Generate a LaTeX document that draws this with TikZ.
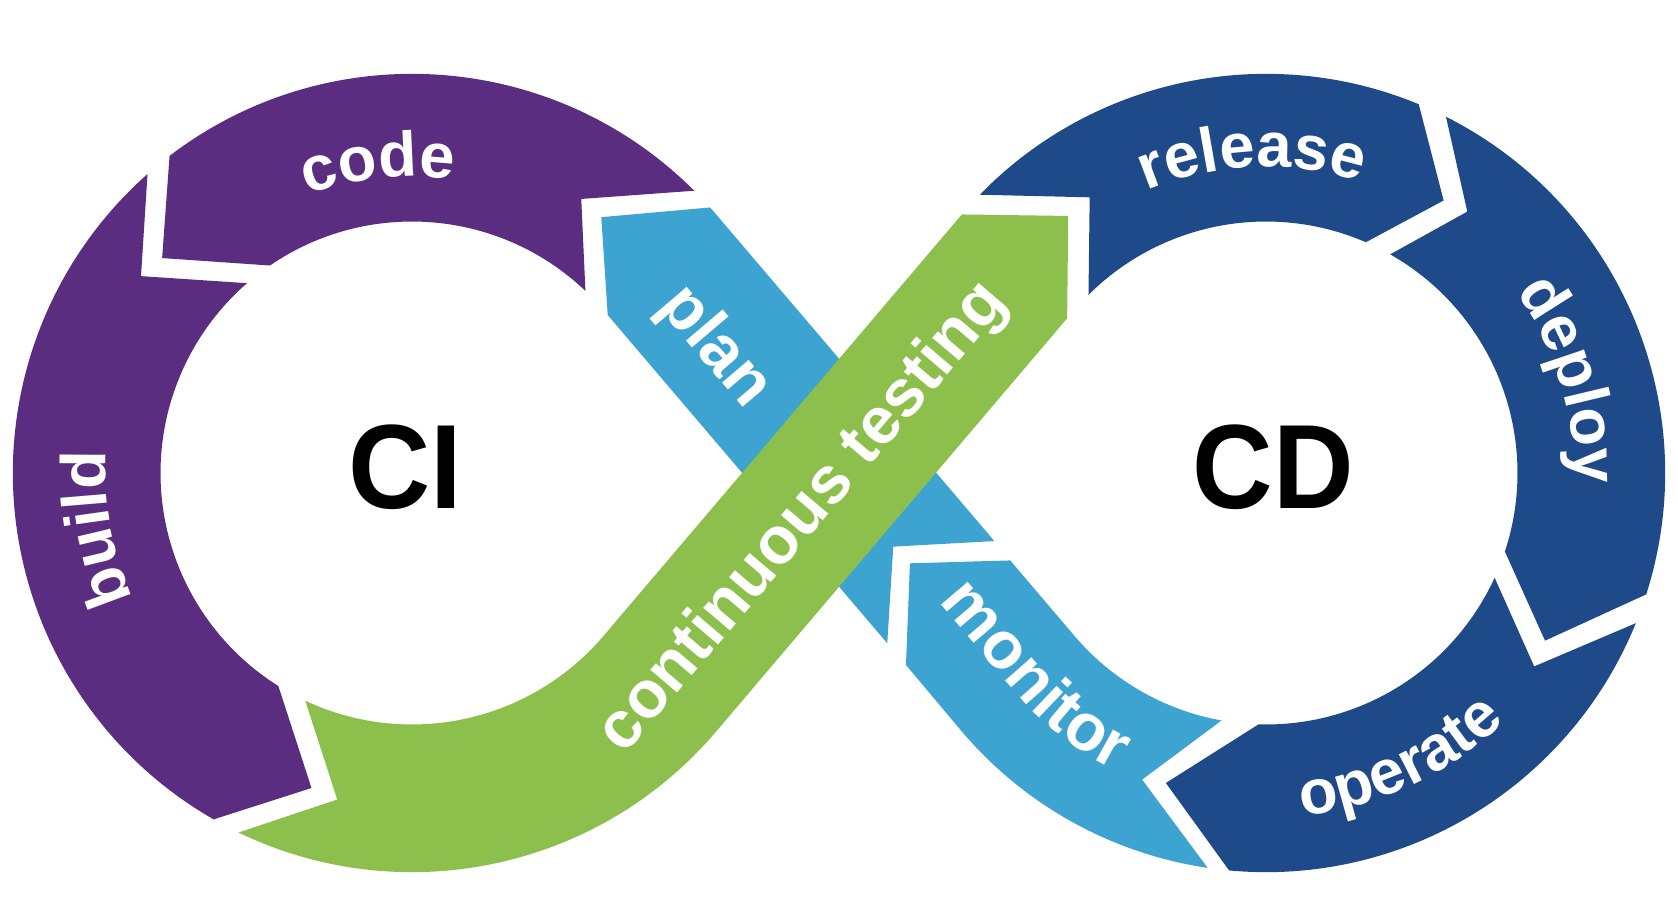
\documentclass[tikz,border=0pt]{standalone}
\usepackage{fontspec}
\usepackage{graphicx}
\usetikzlibrary{calc,decorations.text}
\newfontfamily\lblfam{Liberation Sans}
\newfontfamily\cifam{Liberation Sans}
\newcommand\arcfnt{\lblfam\bfseries\fontsize{59}{70}\selectfont}
\newcommand\bandfnt{\lblfam\bfseries\fontsize{62}{74}\selectfont}
\definecolor{cipurple}{HTML}{5B2D80}
\definecolor{cdblue}{HTML}{1F4A8A}
\definecolor{lblue}{HTML}{3DA3D0}
\definecolor{tgreen}{HTML}{8CBF4B}
\begin{document}
\begin{tikzpicture}[x=1pt,y=1pt,
  arclabel/.style={decorate, decoration={text along path, text align=center, text color=white, text={#1}}},
  bandlabel/.style={text=white, font=\bandfnt, inner sep=0pt},
  bigmark/.style={font=\cifam\bfseries\fontsize{112}{112}\selectfont, text=black, inner sep=0pt}]
\fill[white] (-784,-416) rectangle (784,442);
\useasboundingbox (-784,-416) rectangle (784,442);
\coordinate (CL) at (-399,0);
\coordinate (CR) at (399,0);
% plan (light blue)
\fill[lblue] (145.2,-63.6) -- (-114.8,241.6) arc[start angle=40.37, end angle=41.7, radius=373]
  -- ($(CL)+(53.5:297.4)$) -- (-216.1,147.6) -- (45.1,-159.1) -- (50.7,-68.8) -- cycle;
% monitor (light blue)
\fill[lblue] ($(CR)+(261.6:373)$) arc[start angle=261.6, end angle=220.37, radius=373]
  -- (62.6,-179.4) -- (66.3,-84.4) -- (160,-81.7) -- (220,-152.2)
  arc[start angle=220.37, end angle=259.8, radius=235] -- ($(CR)+(248:309)$) -- cycle;
% code
\fill[cipurple] ($(CL)+(45:373)$) arc[start angle=45, end angle=127.4, radius=373]
  -- ($(CL)+(139.3:308)$) -- ($(CL)+(124.4:235)$) arc[start angle=124.4, end angle=46.4, radius=235]
  -- ($(CL)+(58.3:301)$) -- cycle;
% build
\fill[cipurple] ($(CL)+(131.5:373)$) arc[start angle=131.5, end angle=240.2, radius=373]
  -- ($(CL)+(252.3:309)$) -- ($(CL)+(237.9:235)$) arc[start angle=237.9, end angle=131, radius=235]
  -- ($(CL)+(144:313)$) -- cycle;
% continuous testing (green)
\fill[tgreen] ($(CL)+(244.25:373)$) arc[start angle=244.25, end angle=319.63, radius=373]
  -- (213.2,144.6) -- (214.2,240.2) -- (114.8,241.6) -- (-220,-152.2)
  arc[start angle=319.63, end angle=244.9, radius=235] -- ($(CL)+(257.1:313)$) -- cycle;
% release
\fill[cdblue] ($(CR)+(135.8:373)$) arc[start angle=135.8, end angle=67.5, radius=373]
  -- ($(CR)+(56.9:304)$) -- ($(CR)+(66.6:235)$) arc[start angle=66.6, end angle=134.9, radius=235]
  -- ($(CR)+(122.6:305.8)$) -- cycle;
% deploy
\fill[cdblue] ($(CR)+(63.2:373)$) arc[start angle=63.2, end angle=-17.7, radius=373]
  -- ($(CR)+(-31:304.2)$) -- ($(CR)+(-18.2:235)$) arc[start angle=-18.2, end angle=60.4, radius=235]
  -- ($(CR)+(52.4:308.3)$) -- cycle;
% operate
\fill[cdblue] ($(CR)+(-22.1:373)$) arc[start angle=-22.1, end angle=-95.3, radius=373]
  -- ($(CR)+(-107.9:304.4)$) -- ($(CR)+(-91.7:235)$) arc[start angle=-91.7, end angle=-24.6, radius=235]
  -- ($(CR)+(-35.8:309)$) -- cycle;
% labels
\path[arclabel={|\arcfnt|code}] ($(CL)+(141.3:277)$) arc[start angle=141.3, end angle=51.3, radius=277];
\path[arclabel={|\arcfnt|build}] ($(CL)+(235:286)$) arc[start angle=235, end angle=145, radius=286];
\path[arclabel={|\arcfnt|release}] ($(CR)+(137.5:286)$) arc[start angle=137.5, end angle=47.5, radius=286];
\path[arclabel={|\arcfnt|deploy}] ($(CR)+(62:288)$) arc[start angle=62, end angle=-28, radius=288];
\path[arclabel={|\arcfnt|operate}] ($(CR)+(-110:322)$) arc[start angle=-110, end angle=-20, radius=322];
\path[arclabel={|\bandfnt|monitor}] (71.0,-95.1) -- (161.7,-201.8) arc[start angle=220.37, end angle=249.3, radius=311.5];
\node[bandlabel, rotate=-49.63] (plan) at (-116,117) {plan};
\node[bandlabel, rotate=49.63] (ctest) at (-33,-42) {continuous testing};
\node[bigmark] (ci) at (-405.5,5) {\scalebox{0.95}[1]{CI}};
\node[bigmark] (cd) at (406,5) {\scalebox{0.93}[1]{CD}};
\end{tikzpicture}
\end{document}
